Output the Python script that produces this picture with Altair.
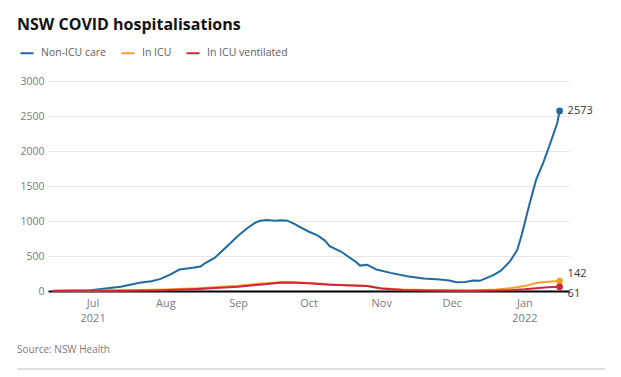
import altair as alt
import pandas as pd

# ---- data ----
series_names = ["Non-ICU care", "In ICU", "In ICU ventilated"]
series_colors = ["#1f6aa0", "#f5a02a", "#d0263a"]

non_icu_dates = ["2021-06-14", "2021-06-30", "2021-07-13", "2021-07-21", "2021-07-26", "2021-07-30",
                 "2021-08-03", "2021-08-07", "2021-08-12", "2021-08-16", "2021-08-18", "2021-08-22",
                 "2021-08-27", "2021-09-01", "2021-09-05", "2021-09-08", "2021-09-10", "2021-09-13",
                 "2021-09-17", "2021-09-19", "2021-09-22", "2021-09-25", "2021-09-27", "2021-10-01",
                 "2021-10-05", "2021-10-08", "2021-10-10", "2021-10-15", "2021-10-18", "2021-10-21",
                 "2021-10-23", "2021-10-26", "2021-10-30", "2021-11-05", "2021-11-12", "2021-11-19",
                 "2021-11-26", "2021-11-30", "2021-12-03", "2021-12-07", "2021-12-10", "2021-12-13",
                 "2021-12-16", "2021-12-19", "2021-12-22", "2021-12-26", "2021-12-29", "2021-12-31",
                 "2022-01-03", "2022-01-06", "2022-01-09", "2022-01-12", "2022-01-15", "2022-01-16"]
non_icu_values = [2, 10, 60, 117, 140, 173,
                  235, 306, 330, 350, 400, 473,
                  630, 790, 900, 970, 1000, 1015,
                  1005, 1010, 1005, 960, 920, 850,
                  790, 720, 640, 560, 490, 420,
                  363, 375, 306, 259, 211, 178,
                  164, 150, 126, 130, 150, 145,
                  188, 230, 290, 430, 590, 820,
                  1220, 1590, 1830, 2110, 2400, 2573]

icu_dates = ["2021-06-14", "2021-07-01", "2021-07-15", "2021-08-01", "2021-08-15", "2021-09-01",
             "2021-09-10", "2021-09-20", "2021-09-25", "2021-10-01", "2021-10-10", "2021-10-20",
             "2021-10-26", "2021-11-01", "2021-11-10", "2021-11-20", "2021-12-01", "2021-12-10",
             "2021-12-20", "2021-12-26", "2022-01-01", "2022-01-06", "2022-01-11", "2022-01-16"]
icu_values = [0, 5, 12, 22, 40, 75,
              105, 128, 125, 115, 95, 80,
              70, 40, 22, 15, 10, 8,
              20, 40, 70, 115, 132, 142]
vent_values = [0, 2, 5, 12, 28, 60,
               90, 120, 118, 110, 90, 78,
               70, 35, 15, 8, 5, 4,
               8, 12, 25, 40, 52, 61]

y_ticks = [0, 500, 1000, 1500, 2000, 2500, 3000]

# ---- build table ----
rows = []
for d, v in zip(non_icu_dates, non_icu_values):
    rows.append({"date": d + "T00:00:00", "series": series_names[0], "value": v})
for d, v in zip(icu_dates, icu_values):
    rows.append({"date": d + "T00:00:00", "series": series_names[1], "value": v})
for d, v in zip(icu_dates, vent_values):
    rows.append({"date": d + "T00:00:00", "series": series_names[2], "value": v})
df = pd.DataFrame(rows)
last = df.groupby("series", sort=False).tail(1).reset_index(drop=True)

FONT = "Open Sans"
GREY = "#7a7a7a"

x_scale = alt.Scale(domain=[alt.DateTime(year=2021, month=6, date=12),
                            alt.DateTime(year=2022, month=1, date=20)])
y_scale = alt.Scale(domain=[0, 3000], nice=False)

x_axis = alt.Axis(title=None,
                  values=[alt.DateTime(year=2021, month=m, date=1) for m in range(7, 13)]
                         + [alt.DateTime(year=2022, month=1, date=1)],
                  labelExpr="month(datum.value)==6 ? ['Jul','2021'] : (month(datum.value)==0 ? ['Jan','2022'] : timeFormat(datum.value,'%b'))",
                  ticks=False, grid=False, domain=True, domainColor="#000000",
                  domainWidth=2, labelColor=GREY, labelFontSize=11, labelFont=FONT,
                  labelPadding=6, labelLineHeight=15, labelOverlap=False)
y_axis = alt.Axis(title=None, values=y_ticks, ticks=False, domain=False,
                  format="d", grid=True, gridColor="#e6e6e6", labelColor=GREY,
                  labelFontSize=10.5, labelFont=FONT, labelPadding=4,
                  labelOverlap=False)

x_enc = alt.X("date:T", scale=x_scale, axis=x_axis)
y_enc = alt.Y("value:Q", scale=y_scale, axis=y_axis)
color_enc = alt.Color("series:N",
                      scale=alt.Scale(domain=series_names, range=series_colors),
                      legend=alt.Legend(title=None, orient="none", direction="horizontal",
                                        legendX=-29, legendY=-36, symbolType="stroke",
                                        symbolStrokeWidth=2, symbolSize=170,
                                        labelFont=FONT, labelFontSize=10.5, labelColor="#606060",
                                        labelOffset=6, columnPadding=10, padding=0))

lines = alt.Chart(df).mark_line(strokeWidth=2).encode(
    x=x_enc, y=y_enc, color=color_enc, detail="series:N")

dots = alt.Chart(last).mark_point(filled=True, size=45, opacity=1).encode(
    x=x_enc, y=y_enc,
    color=alt.Color("series:N", scale=alt.Scale(domain=series_names, range=series_colors), legend=None))

label_layers = []
for name, dy in zip(series_names, [0, -7, 7]):
    label_layers.append(
        alt.Chart(last).transform_filter(alt.datum.series == name)
        .mark_text(align="left", baseline="middle", dx=8, dy=dy, fontSize=11, font=FONT, color="#333333")
        .encode(x=x_enc, y=y_enc, text="value:Q"))

title = alt.Chart(pd.DataFrame({"t": ["NSW COVID hospitalisations"]})).mark_text(
    align="left", baseline="alphabetic", fontSize=16, fontWeight="bold", font=FONT, color="#121212"
).encode(x=alt.value(-31), y=alt.value(-51), text="t:N")

source = alt.Chart(pd.DataFrame({"t": ["Source: NSW Health"]})).mark_text(
    align="left", baseline="middle", fontSize=10, font=FONT, color=GREY
).encode(x=alt.value(-31), y=alt.value(269), text="t:N")

bottom_rule = alt.Chart(pd.DataFrame({"a": [0]})).mark_rule(color="#d6d6d6", strokeWidth=1.5).encode(
    x=alt.value(-31), x2=alt.value(557), y=alt.value(288))

chart = alt.layer(lines, dots, *label_layers, title, source, bottom_rule).properties(
    width=521, height=210,
    autosize=alt.AutoSizeParams(type="none"),
    padding={"left": 48, "top": 81, "right": 52, "bottom": 86},
    background="white",
).configure_view(stroke=None)

chart.save("out.html", embed_options={"renderer": "svg", "actions": False})
